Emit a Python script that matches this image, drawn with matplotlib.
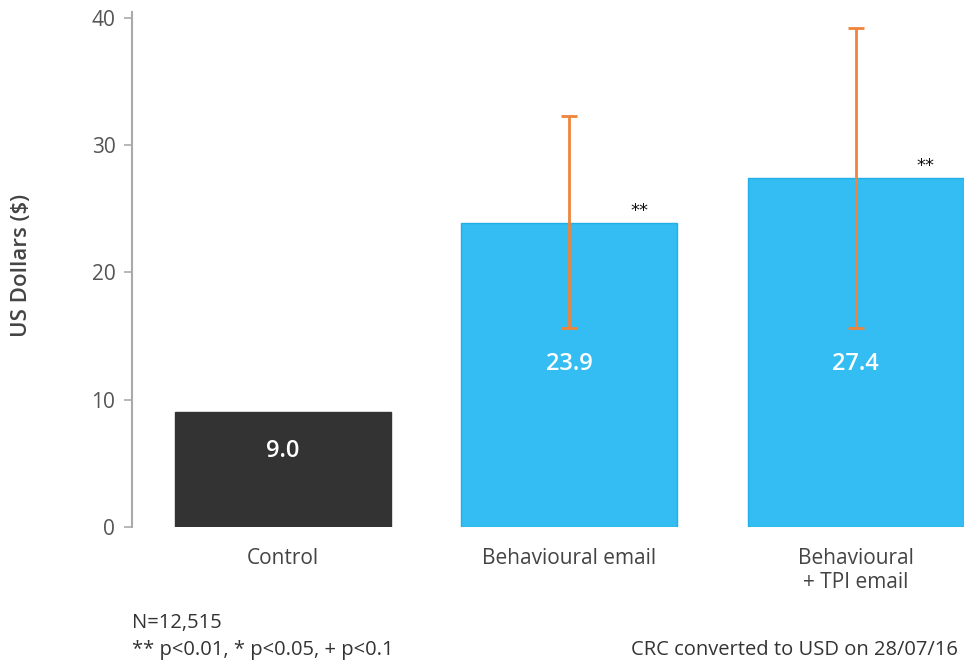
import numpy as np
import matplotlib.pyplot as plt

plt.rcParams['font.family'] = ['Open Sans', 'DejaVu Sans']

# Data
groups = ["Control", "Behavioural email", "Behavioural\n+ TPI email"]
values = [9.0, 23.9, 27.4]
err_low = [None, 15.6, 15.6]
err_high = [None, 32.3, 39.2]
stars = ["", "**", "**"]
label_y = [6.0, 12.8, 12.8]

colors = ["#333333", "#33bdf2", "#33bdf2"]
edges = ["#333333", "#22aee6", "#22aee6"]
orange = "#f0843a"
grey_text = "#555555"

fig = plt.figure(figsize=(9.64, 6.66), dpi=100)
ax = fig.add_axes([132 / 964, 1 - 527 / 666, 1 - 132 / 964, (527 - 12) / 666])

x = np.arange(len(groups))
width = 0.755
ax.bar(x, values, width=width, color=colors, edgecolor=edges, linewidth=1)

for i in range(len(groups)):
    if err_low[i] is not None:
        ax.errorbar(x[i], values[i],
                    yerr=[[values[i] - err_low[i]], [err_high[i] - values[i]]],
                    fmt="none", ecolor=orange, elinewidth=2, capsize=6, capthick=2)
    ax.text(x[i], label_y[i], f"{values[i]:.1f}", color="white", ha="center",
            va="center", fontsize=17, fontweight="semibold")
    if stars[i]:
        ax.text(x[i] + 0.244, values[i] + 0.25, stars[i], ha="center", va="bottom",
                fontsize=13, color="#111111", family="DejaVu Sans")

ax.set_xlim(-0.526, 2.378)
ax.set_ylim(0, 40.47)
ax.set_yticks([0, 10, 20, 30, 40])
ax.set_xticks(x)
ax.set_xticklabels(groups, fontsize=15, color="#444444", linespacing=1.2)
ax.tick_params(axis="x", length=0, pad=15)
ax.tick_params(axis="y", labelsize=15, labelcolor=grey_text, color="#aaaaaa",
               length=6, width=1.2, pad=6)

for s in ["top", "right", "bottom"]:
    ax.spines[s].set_visible(False)
ax.spines["left"].set_color("#aaaaaa")
ax.spines["left"].set_linewidth(1.5)
ax.spines["left"].set_bounds(0, 40.47)

fig.text(22 / 964, 1 - 265 / 666, "US Dollars ($)", rotation=90, ha="center",
         va="center", fontsize=16, fontweight="semibold", color="#444444")

fig.text(132 / 964, 1 - 623 / 666, "N=12,515", ha="left", va="center",
         fontsize=14.5, color="#333333")
fig.text(132 / 964, 1 - 650 / 666, "** p<0.01, * p<0.05, + p<0.1", ha="left",
         va="center", fontsize=14.5, color="#333333")
fig.text(958 / 964, 1 - 650 / 666, "CRC converted to USD on 28/07/16", ha="right",
         va="center", fontsize=14.5, color="#333333")

fig.savefig("out.png", dpi=100)
